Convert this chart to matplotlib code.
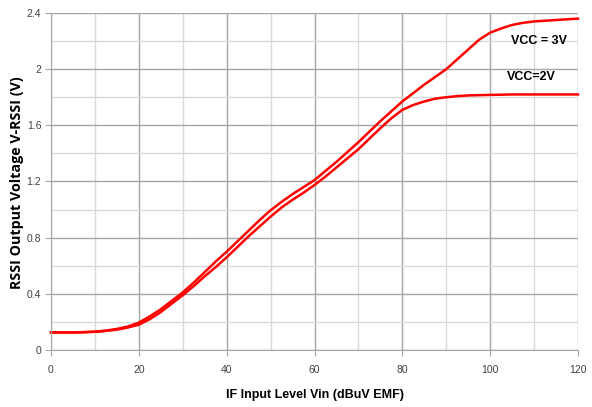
import matplotlib
matplotlib.use("Agg")
import matplotlib.pyplot as plt
from matplotlib.ticker import MultipleLocator, FixedLocator

x_vals = [0, 2.5, 5, 7.5, 10, 12.5, 15, 17.5, 20, 22.5, 25, 27.5, 30, 32.5, 35, 37.5, 40, 42.5,
          45, 47.5, 50, 52.5, 55, 57.5, 60, 62.5, 65, 67.5, 70, 72.5, 75, 77.5, 80, 82.5, 85,
          87.5, 90, 92.5, 95, 97.5, 100, 102.5, 105, 107.5, 110, 112.5, 115, 117.5, 120]
vcc3 = [0.125, 0.125, 0.125, 0.127, 0.13, 0.138, 0.15, 0.167, 0.195, 0.24, 0.29, 0.35, 0.41,
        0.48, 0.555, 0.63, 0.70, 0.775, 0.85, 0.925, 0.995, 1.055, 1.11, 1.16, 1.21, 1.275, 1.34,
        1.41, 1.48, 1.555, 1.63, 1.70, 1.77, 1.83, 1.89, 1.945, 2.00, 2.07, 2.14, 2.21, 2.26,
        2.29, 2.315, 2.33, 2.34, 2.345, 2.35, 2.355, 2.36]
vcc2 = [0.125, 0.125, 0.125, 0.127, 0.13, 0.136, 0.145, 0.16, 0.18, 0.22, 0.27, 0.33, 0.39,
        0.455, 0.525, 0.59, 0.66, 0.735, 0.81, 0.88, 0.95, 1.015, 1.07, 1.12, 1.175, 1.235, 1.30,
        1.365, 1.43, 1.505, 1.58, 1.65, 1.71, 1.745, 1.77, 1.79, 1.80, 1.808, 1.813, 1.815, 1.817,
        1.818, 1.82, 1.82, 1.82, 1.82, 1.82, 1.82, 1.82]
x_ticks = [0, 20, 40, 60, 80, 100, 120]
y_ticks = [0, 0.4, 0.8, 1.2, 1.6, 2.0, 2.4]
y_tick_labels = ["0", "0.4", "0.8", "1.2", "1.6", "2", "2.4"]
labels = ["VCC = 3V", "VCC=2V"]

narrow = ["Liberation Sans Narrow", "Liberation Sans", "DejaVu Sans"]

fig = plt.figure(figsize=(5.92, 4.07), dpi=100)
ax = fig.add_axes([51/592, 57/407, 527/592, 337/407])

ax.set_xlim(0, 120)
ax.set_ylim(0, 2.4)
ax.xaxis.set_major_locator(FixedLocator(x_ticks))
ax.yaxis.set_major_locator(FixedLocator(y_ticks))
ax.xaxis.set_minor_locator(MultipleLocator(10))
ax.yaxis.set_minor_locator(MultipleLocator(0.2))
ax.set_yticklabels(y_tick_labels)
ax.grid(which="minor", color="#d9d9d9", linewidth=1.0)
ax.grid(which="major", color="#a6a6a6", linewidth=1.0)
ax.set_axisbelow(True)
for s in ["top", "right"]:
    ax.spines[s].set_visible(False)
for s in ["left", "bottom"]:
    ax.spines[s].set_color("#a6a6a6")
ax.tick_params(which="major", length=4, color="#a6a6a6", labelsize=7.5)
ax.tick_params(axis="x", which="major", pad=7)
ax.tick_params(axis="y", which="major", pad=3)
ax.tick_params(which="minor", length=0)
for lab in ax.get_xticklabels() + ax.get_yticklabels():
    lab.set_family(narrow)
    lab.set_color("#404040")

ax.plot(x_vals, vcc3, color="#ff0000", linewidth=1.8, clip_on=False, solid_joinstyle="round")
ax.plot(x_vals, vcc2, color="#ff0000", linewidth=1.8, clip_on=False, solid_joinstyle="round")

fig.text(511/592, 1 - 41/407, labels[0], fontsize=9, fontweight="bold",
         family=narrow, ha="left", va="center")
fig.text(507/592, 1 - 77/407, labels[1], fontsize=9, fontweight="bold",
         family=narrow, ha="left", va="center")

fig.text(315/592, 1 - 395/407, "IF Input Level Vin (dBuV EMF)", fontsize=9, fontweight="bold",
         family=narrow, ha="center", va="center")
fig.text(17/592, 1 - 183/407, "RSSI Output Voltage V-RSSI (V)", fontsize=10.3, fontweight="bold",
         family=["Open Sans", "DejaVu Sans"], ha="center", va="center", rotation=90)

fig.savefig("out.png", dpi=100)
